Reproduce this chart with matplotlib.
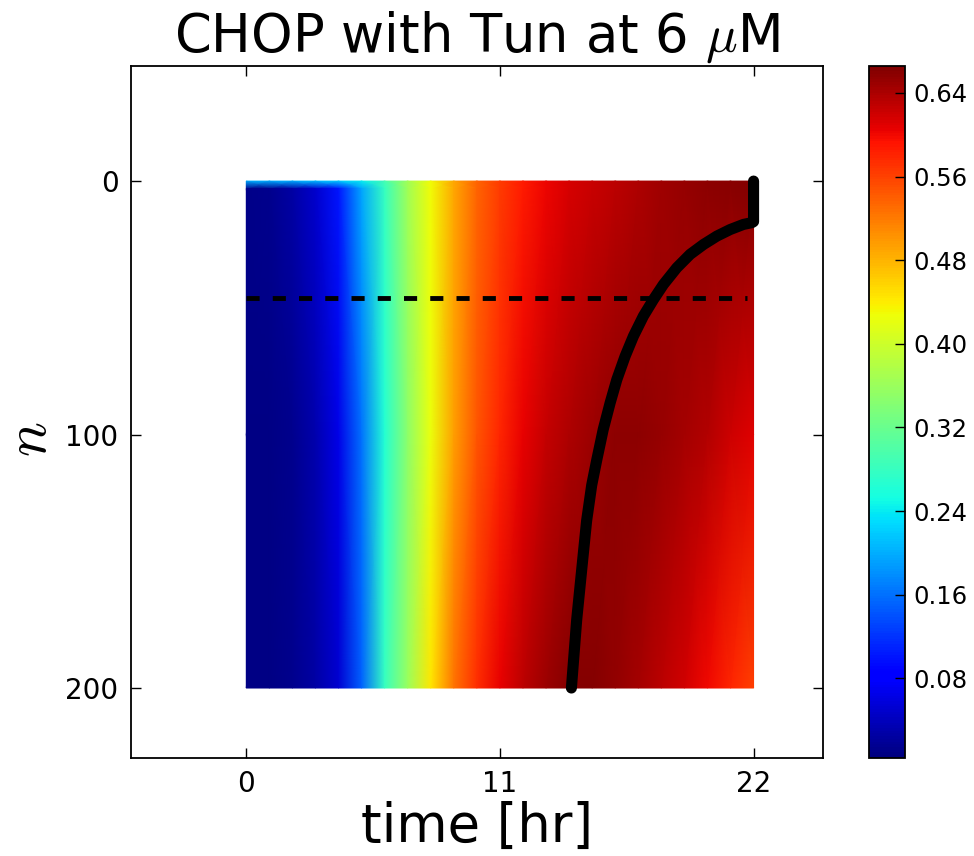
import numpy as np
import matplotlib
matplotlib.use('Agg')
import matplotlib.pyplot as plt

plt.rcParams['mathtext.fontset'] = 'cm'

# time grid [hr] and n rows the colour field was read at
times = [0, 1, 2, 3, 4, 5, 6, 7, 8, 9, 10, 11, 12, 13, 14, 15, 16, 17, 18, 19, 20, 21, 22]
n_rows = [0, 3, 100, 200]

chop_n0 = [0.200, 0.200, 0.200, 0.210, 0.220, 0.240, 0.290, 0.365, 0.430, 0.490, 0.535, 0.565,
           0.588, 0.602, 0.615, 0.623, 0.632, 0.640, 0.646, 0.652, 0.657, 0.660, 0.662]
chop_n3 = [0.010, 0.014, 0.025, 0.050, 0.100, 0.195, 0.280, 0.365, 0.430, 0.490, 0.535, 0.565,
           0.588, 0.602, 0.615, 0.623, 0.632, 0.640, 0.646, 0.652, 0.657, 0.660, 0.662]
chop_n100 = [0.008, 0.008, 0.012, 0.030, 0.065, 0.160, 0.265, 0.350, 0.425, 0.495, 0.545, 0.580,
             0.605, 0.625, 0.640, 0.650, 0.656, 0.657, 0.652, 0.645, 0.635, 0.622, 0.610]
chop_n200 = [0.008, 0.008, 0.012, 0.025, 0.052, 0.150, 0.280, 0.360, 0.445, 0.525, 0.575, 0.605,
             0.630, 0.650, 0.662, 0.662, 0.655, 0.645, 0.632, 0.618, 0.600, 0.580, 0.560]

# threshold curve (time, n)
curve_t = [14.10, 14.33, 14.55, 14.76, 14.98, 15.20, 15.48, 15.78, 16.07, 16.43, 16.79, 17.22,
           17.66, 18.09, 18.67, 19.25, 19.83, 20.41, 20.99, 21.56, 21.93, 22.0, 22.0]
curve_n = [200, 173, 153, 134, 120, 110, 98, 87.5, 78.3, 69.1, 61.2, 53.3,
           46.7, 40.8, 34.2, 28.9, 25.0, 21.7, 19.1, 17.1, 16.4, 16, 0]

dashed_n = 46
dashed_t = [0, 21.7]

cbar_ticks = [0.08, 0.16, 0.24, 0.32, 0.40, 0.48, 0.56, 0.64]
VMIN, VMAX = 0.004, 0.666

fig = plt.figure(figsize=(9.74, 8.56), dpi=100)
ax = fig.add_axes([0.1345, 0.1148, 0.7102, 0.8084])
cax = fig.add_axes([0.8925, 0.1148, 0.0367, 0.8084])

field = np.array([chop_n0, chop_n3, chop_n100, chop_n200])
T, N = np.meshgrid(times, n_rows)
mesh = ax.pcolormesh(T, N, field, shading='gouraud', cmap='jet', vmin=VMIN, vmax=VMAX)

ax.plot(dashed_t, [dashed_n, dashed_n], color='k', lw=3.5, dashes=(2.7, 2.7))
ax.plot(curve_t, curve_n, color='k', lw=8, solid_capstyle='round', solid_joinstyle='round')

ax.set_xlim(-5, 25)
ax.set_ylim(227.5, -45.5)
ax.set_xticks([0, 11, 22])
ax.set_yticks([0, 100, 200])
ax.tick_params(direction='in', length=7, width=1, top=True, right=True, labelsize=20, pad=9)
for spine in ax.spines.values():
    spine.set_linewidth(1.3)

ax.set_title(r'CHOP with Tun at 6 $\mu$M', fontsize=38, pad=10)
ax.set_xlabel('time [hr]', fontsize=38, labelpad=2)
ax.set_ylabel(r'$n$', fontsize=42)
ax.yaxis.set_label_coords(-0.105, 0.46)

cbar = fig.colorbar(mesh, cax=cax)
cbar.set_ticks(cbar_ticks)
cbar.set_ticklabels([f'{v:.2f}' for v in cbar_ticks])
cbar.ax.tick_params(direction='in', length=7, width=1, labelsize=17.5, pad=6)
cbar.outline.set_linewidth(1.3)

fig.savefig('out.png', dpi=100)
